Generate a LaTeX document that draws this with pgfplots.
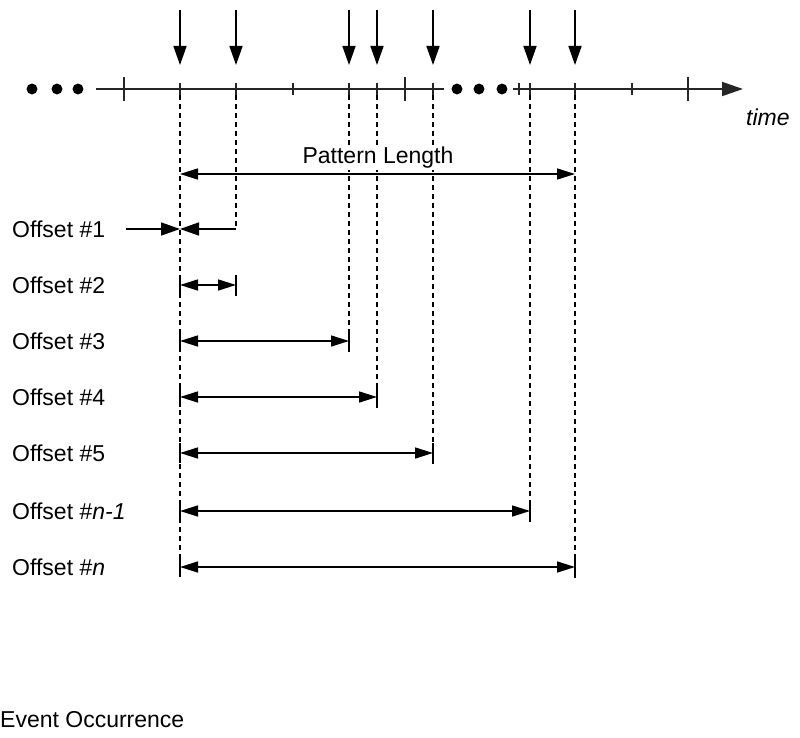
\documentclass[border=0pt]{standalone}
\usepackage{pgfplots}
\pgfplotsset{compat=1.18}
\usetikzlibrary{arrows.meta}
\usepackage{fontspec}
\setmainfont{Liberation Sans}

\tikzset{
  lbl/.style={font=\fontsize{23}{27}\selectfont, inner sep=0pt, text=black},
  ev/.style={-{Triangle[length=19pt,width=13pt]}},
  off/.style={{Triangle[length=18pt,width=11pt]}-{Triangle[length=18pt,width=11pt]}},
  dsh/.style={dash pattern=on 5pt off 4pt, line width=1.3pt},
}

\begin{document}
\begin{tikzpicture}
\begin{axis}[
    width=800pt, height=738pt, scale only axis,
    xmin=0, xmax=800, ymin=0, ymax=738, y dir=reverse,
    hide axis, clip=false,
    every axis plot/.append style={black, line width=1.6pt, mark=none},
]
% frame for bounding box
\addplot[draw=none] coordinates {(0,0) (800,738)};

% time axis
\addplot[black!85, line width=1.8pt] coordinates {(96,89) (444,89)};
\addplot[black!85, line width=1.8pt, -{Triangle[length=21pt,width=14pt]}] coordinates {(513,89) (743,89)};
\addplot[only marks, mark=*, mark size=4.6pt] coordinates {(32,89) (57,89) (78,89) (457,89) (479,89) (502,89)};

% long and short ticks
\pgfplotsinvokeforeach{124,405,688}{
  \addplot[black!85, line width=1.5pt] coordinates {(#1,77) (#1,101)};
}
\pgfplotsinvokeforeach{293,519,632}{
  \addplot[black!85, line width=1.5pt] coordinates {(#1,83) (#1,95)};
}

% event occurrences
\pgfplotsinvokeforeach{180,236,349,377,433,530,575}{
  \addplot[ev] coordinates {(#1,10) (#1,65)};
  \addplot[black!85, line width=1.5pt] coordinates {(#1,83) (#1,95)};
}

% dashed guides
\addplot[dsh] coordinates {(180,95) (180,578)};
\addplot[dsh] coordinates {(236,95) (236,229)};
\addplot[dsh] coordinates {(349,95) (349,331)};
\addplot[dsh] coordinates {(377,95) (377,387)};
\addplot[dsh] coordinates {(433,95) (433,443)};
\addplot[dsh] coordinates {(530,95) (530,501)};
\addplot[dsh] coordinates {(575,95) (575,557)};

% pattern length
\addplot[off] coordinates {(180,174) (575,174)};
\node[lbl, anchor=base, fill=white, inner sep=1.5pt] at (axis cs:378,164) {Pattern Length};

% offset #1
\addplot[ev] coordinates {(126,229) (180,229)};
\addplot[ev] coordinates {(236,229) (180,229)};

% offsets #2 .. #n
\addplot[off] coordinates {(180,285) (236,285)};
\addplot[off] coordinates {(180,341) (349,341)};
\addplot[off] coordinates {(180,397) (377,397)};
\addplot[off] coordinates {(180,453) (433,453)};
\addplot[off] coordinates {(180,511) (530,511)};
\addplot[off] coordinates {(180,567) (575,567)};

% end bars
\addplot[line width=1.4pt] coordinates {(236,275) (236,296)};
\addplot[line width=1.4pt] coordinates {(349,331) (349,352)};
\addplot[line width=1.4pt] coordinates {(377,387) (377,408)};
\addplot[line width=1.4pt] coordinates {(433,443) (433,464)};
\addplot[line width=1.4pt] coordinates {(530,501) (530,522)};
\addplot[line width=1.4pt] coordinates {(575,557) (575,578)};
\pgfplotsinvokeforeach{285,341,397,453,511,567}{
  \addplot[line width=1.4pt] coordinates {(180,#1-10) (180,#1+10)};
}

% labels
\node[lbl, anchor=west] at (axis cs:12,229) {Offset \#1};
\node[lbl, anchor=west] at (axis cs:12,285) {Offset \#2};
\node[lbl, anchor=west] at (axis cs:12,341) {Offset \#3};
\node[lbl, anchor=west] at (axis cs:12,397) {Offset \#4};
\node[lbl, anchor=west] at (axis cs:12,453) {Offset \#5};
\node[lbl, anchor=west] at (axis cs:12,511) {Offset \#\textit{n-1}};
\node[lbl, anchor=west] at (axis cs:12,567) {Offset \#\textit{n}};
\node[lbl, anchor=west] at (axis cs:746,117) {\textit{time}};
\node[lbl, anchor=west] at (axis cs:0,720) {Event Occurrence};
\end{axis}
\end{tikzpicture}
\end{document}
